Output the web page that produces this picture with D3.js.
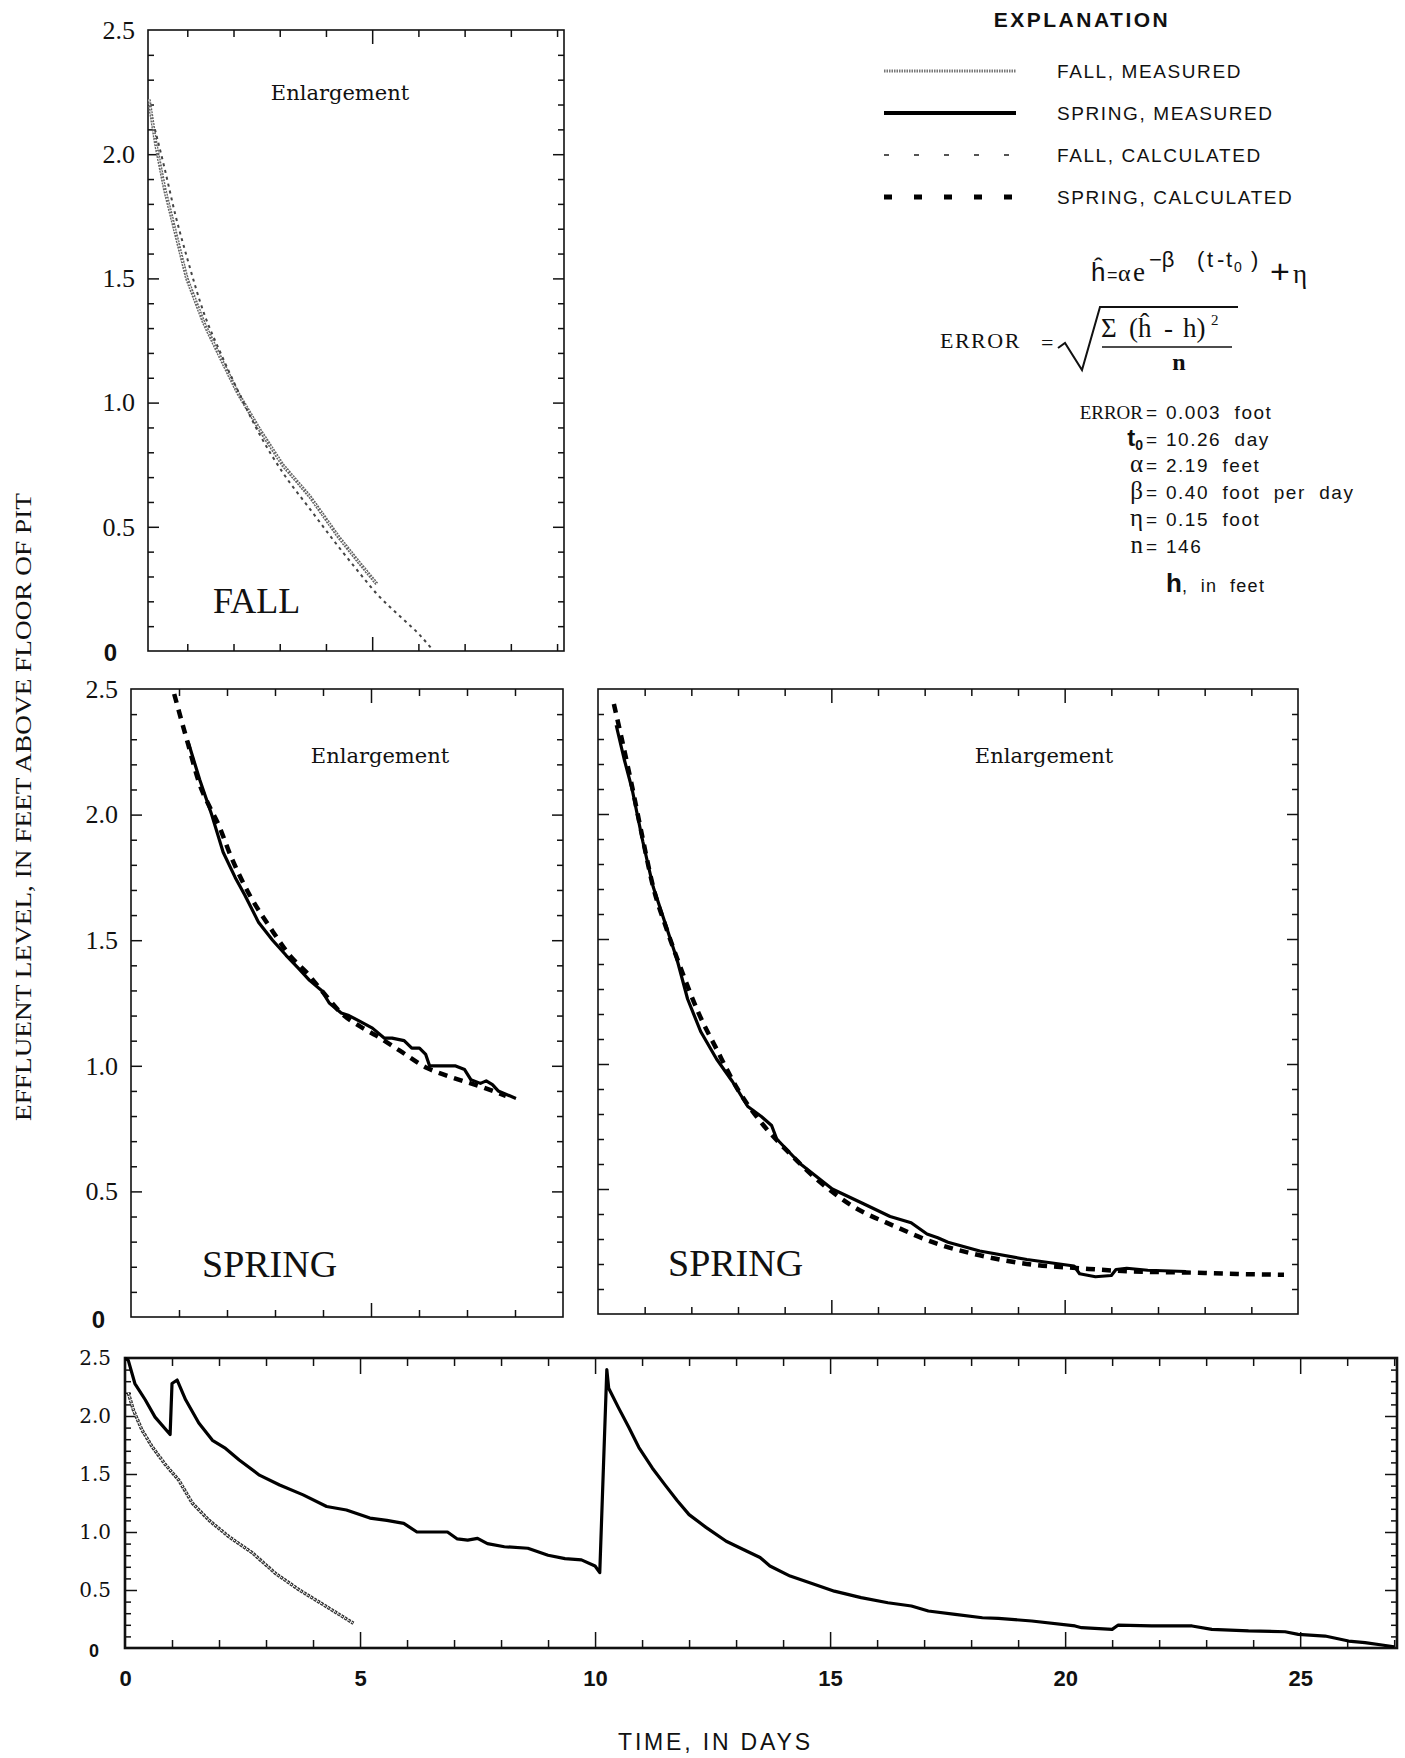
<!DOCTYPE html>
<html>
<head>
<meta charset="utf-8">
<script src="https://cdn.jsdelivr.net/npm/d3@7"></script>
<style>
  body { margin: 0; background: #fff; }
  svg text { fill: #111; }
</style>
</head>
<body>
<div id="chart"></div>
<script>
// values: time in days, effluent level in feet

var levelTicks = [0, 0.5, 1.0, 1.5, 2.0, 2.5];
var dayTicks = [0, 5, 10, 15, 20, 25];

// FALL enlargement (top left)
var fallEnlMeasT = [0.17, 0.32, 0.51, 0.75, 0.99, 1.36, 1.72, 2.09, 2.57, 3.06, 3.66, 4.27, 4.7, 5.1];
var fallEnlMeasH = [2.22, 2.04, 1.86, 1.68, 1.50, 1.32, 1.18, 1.04, 0.89, 0.75, 0.62, 0.46, 0.36, 0.27];
var fallEnlCalcT = [0.3, 0.5, 0.75, 1.0, 1.36, 1.72, 2.09, 2.57, 3.06, 3.66, 4.27, 4.7, 5.1, 5.6, 6.0, 6.33];
var fallEnlCalcH = [2.1, 1.95, 1.75, 1.58, 1.36, 1.2, 1.05, 0.87, 0.72, 0.57, 0.42, 0.32, 0.23, 0.14, 0.07, 0.0];

// SPRING enlargement, first period (middle left)
var springEnlMeasT = [1.19, 1.43, 1.68, 1.92, 2.17, 2.37, 2.66, 2.95, 3.23, 3.48, 3.72, 3.97, 4.13, 4.38, 4.54, 4.79, 5.03, 5.28, 5.44, 5.69, 5.85, 6.01, 6.14, 6.22, 6.75, 6.95, 7.08, 7.28, 7.40, 7.53, 7.65, 8.02];
var springEnlMeasH = [2.29, 2.14, 2.0, 1.85, 1.75, 1.68, 1.57, 1.50, 1.44, 1.39, 1.34, 1.30, 1.25, 1.21, 1.20, 1.175, 1.15, 1.11, 1.11, 1.10, 1.07, 1.07, 1.045, 1.0, 1.0, 0.985, 0.945, 0.93, 0.94, 0.925, 0.90, 0.87];
var springEnlCalcT = [0.90, 1.19, 1.43, 1.64, 1.80, 2.09, 2.50, 2.90, 3.35, 3.64, 3.97, 4.38, 4.79, 5.11, 5.60, 6.18, 6.59, 7.32, 7.81];
var springEnlCalcH = [2.48, 2.28, 2.12, 2.03, 1.97, 1.83, 1.67, 1.55, 1.43, 1.375, 1.30, 1.21, 1.155, 1.12, 1.06, 0.99, 0.96, 0.915, 0.88];

// SPRING enlargement, second period (middle right)
var spring2MeasT = [10.39, 10.56, 10.73, 10.96, 11.18, 11.41, 11.69, 11.92, 12.2, 12.54, 12.88, 13.21, 13.50, 13.72, 13.83, 14.34, 15.02, 15.70, 16.26, 16.71, 17.05, 17.28, 17.5, 18.18, 19.19, 20.2, 20.32, 20.66, 21.0, 21.1, 21.33, 21.78, 22.6];
var spring2MeasH = [2.355, 2.22, 2.10, 1.89, 1.71, 1.58, 1.42, 1.26, 1.13, 1.02, 0.93, 0.83, 0.79, 0.754, 0.70, 0.60, 0.50, 0.44, 0.39, 0.365, 0.32, 0.305, 0.287, 0.252, 0.218, 0.192, 0.161, 0.149, 0.154, 0.178, 0.183, 0.175, 0.17];
var spring2CalcT = [10.34, 10.51, 10.73, 10.96, 11.18, 11.47, 11.80, 12.14, 12.54, 12.99, 13.55, 14.12, 14.68, 15.47, 16.37, 17.28, 18.18, 19.19, 20.32, 21.45, 22.6, 23.7, 24.7];
var spring2CalcH = [2.44, 2.30, 2.11, 1.90, 1.71, 1.54, 1.37, 1.21, 1.06, 0.90, 0.754, 0.64, 0.54, 0.43, 0.35, 0.28, 0.235, 0.20, 0.183, 0.17, 0.166, 0.16, 0.157];

// full record (bottom)
var springRecT = [0, 0.07, 0.21, 0.43, 0.64, 0.96, 1.0, 1.11, 1.29, 1.57, 1.86, 2.14, 2.43, 2.86, 3.29, 3.79, 4.29, 4.71, 5.21, 5.57, 5.93, 6.21, 6.86, 7.07, 7.29, 7.5, 7.71, 8.07, 8.57, 9.0, 9.36, 9.71, 10.0, 10.1, 10.25, 10.29, 10.5, 10.72, 10.93, 11.22, 11.5, 11.75, 12.0, 12.36, 12.79, 13.22, 13.51, 13.72, 14.15, 14.66, 15.09, 15.66, 16.23, 16.73, 17.09, 17.66, 18.24, 18.58, 19.29, 20.21, 20.35, 21.0, 21.13, 21.84, 22.7, 23.12, 23.9, 24.68, 24.96, 25.53, 26.03, 26.38, 26.74, 27.0];
var springRecH = [2.5, 2.48, 2.28, 2.14, 1.99, 1.84, 2.28, 2.31, 2.14, 1.94, 1.79, 1.72, 1.62, 1.49, 1.405, 1.32, 1.22, 1.19, 1.12, 1.10, 1.075, 1.00, 1.00, 0.94, 0.93, 0.945, 0.90, 0.873, 0.86, 0.80, 0.77, 0.76, 0.707, 0.65, 2.40, 2.24, 2.07, 1.90, 1.73, 1.55, 1.40, 1.27, 1.15, 1.04, 0.92, 0.836, 0.78, 0.707, 0.62, 0.55, 0.49, 0.434, 0.39, 0.362, 0.319, 0.29, 0.261, 0.255, 0.233, 0.19, 0.175, 0.161, 0.198, 0.19, 0.19, 0.161, 0.147, 0.14, 0.118, 0.103, 0.06, 0.046, 0.026, 0.01];
var fallRecT = [0.07, 0.18, 0.36, 0.57, 0.86, 1.14, 1.43, 1.79, 2.21, 2.71, 3.21, 3.71, 4.29, 4.86];
var fallRecH = [2.20, 2.05, 1.88, 1.74, 1.58, 1.45, 1.25, 1.10, 0.96, 0.82, 0.64, 0.50, 0.356, 0.213];

var legendNames = ["FALL, MEASURED", "SPRING, MEASURED", "FALL, CALCULATED", "SPRING, CALCULATED"];
var paramLabels = ["ERROR", "t", "\u03b1", "\u03b2", "\u03b7", "n"];
var paramValues = ["0.003  foot", "10.26  day", "2.19  feet", "0.40  foot  per  day", "0.15  foot", "146"];

var serif = "'Liberation Serif', 'Times New Roman', serif";
var wideSerif = "'DejaVu Serif', serif";
var sans = "'Liberation Sans', Arial, sans-serif";

var svg = d3.select("#chart").append("svg")
  .attr("width", 1405).attr("height", 1758)
  .style("background", "#fff");

// line styles
var styles = {
  fallMeas: function(sel) { sel.attr("stroke", "#666").attr("stroke-width", 3.6).attr("stroke-dasharray", "2,1"); },
  fallMeasDark: function(sel) { sel.attr("stroke", "#333").attr("stroke-width", 3.4).attr("stroke-dasharray", "3,1"); },
  fallCalc: function(sel) { sel.attr("stroke", "#444").attr("stroke-width", 2).attr("stroke-dasharray", "3,4"); },
  springMeas: function(sel) { sel.attr("stroke", "#000").attr("stroke-width", 3.2); },
  springCalc: function(sel) { sel.attr("stroke", "#000").attr("stroke-width", 4.5).attr("stroke-dasharray", "9,7"); }
};

var panelCount = 0;
function makePanel(p) {
  var x = d3.scaleLinear().domain(p.xDomain).range([p.left, p.right]);
  var y = d3.scaleLinear().domain([0, 2.5]).range([p.bottom, p.top]);
  var g = svg.append("g");

  var days = d3.range(Math.ceil(p.xDomain[0]), Math.floor(p.xDomain[1]) + 1)
    .filter(function(d) { return d > p.xDomain[0] + 0.01 && d < p.xDomain[1] - 0.01; });
  var xMinor = days.filter(function(d) { return d % 5 != 0; });
  var xMajor = days.filter(function(d) { return d % 5 == 0; });
  var tenths = d3.range(1, 25).map(function(i) { return i / 10; });
  var yMinor = tenths.filter(function(d) { return Math.round(d * 10) % 5 != 0; });
  var yMajor = [0.5, 1.0, 1.5, 2.0];

  function ticks(axis, tr) {
    g.append("g").attr("transform", tr).call(axis)
      .call(function(a) { a.select(".domain").remove(); a.selectAll("text").remove(); })
      .selectAll("line").attr("stroke", "#111").attr("stroke-width", 1.5);
  }
  ticks(d3.axisBottom(x).tickValues(xMinor).tickSize(-p.tx), "translate(0," + p.bottom + ")");
  ticks(d3.axisBottom(x).tickValues(xMajor).tickSize(-p.tX), "translate(0," + p.bottom + ")");
  ticks(d3.axisTop(x).tickValues(xMinor).tickSize(-p.tx), "translate(0," + p.top + ")");
  ticks(d3.axisTop(x).tickValues(xMajor).tickSize(-p.tX), "translate(0," + p.top + ")");
  ticks(d3.axisLeft(y).tickValues(yMinor).tickSize(-p.ty), "translate(" + p.left + ",0)");
  ticks(d3.axisLeft(y).tickValues(yMajor).tickSize(-p.tY), "translate(" + p.left + ",0)");
  ticks(d3.axisRight(y).tickValues(yMinor).tickSize(-p.ty), "translate(" + p.right + ",0)");
  ticks(d3.axisRight(y).tickValues(yMajor).tickSize(-p.tY), "translate(" + p.right + ",0)");

  g.append("rect")
    .attr("x", p.left).attr("y", p.top)
    .attr("width", p.right - p.left).attr("height", p.bottom - p.top)
    .attr("fill", "none").attr("stroke", "#111").attr("stroke-width", p.frame);

  if (p.yLabels) {
    var ya = g.append("g").attr("transform", "translate(" + p.left + ",0)")
      .call(d3.axisLeft(y).tickValues(levelTicks).tickSize(0).tickPadding(p.pad)
        .tickFormat(function(d) { return d == 0 ? "0" : d3.format(".1f")(d); }));
    ya.select(".domain").remove();
    ya.selectAll("text").attr("font-family", p.labelFont).attr("font-size", p.labelSize).attr("fill", "#111");
    ya.selectAll(".tick").filter(function(d) { return d == 0; }).select("text")
      .attr("font-family", sans).attr("font-weight", "bold").attr("font-size", p.labelSize - 2)
      .attr("x", -p.pad - p.zeroShift).attr("dy", p.zeroDy);
  }

  panelCount++;
  var cid = "clip" + panelCount;
  svg.append("clipPath").attr("id", cid).append("rect")
    .attr("x", p.left).attr("y", p.top - 3)
    .attr("width", p.right - p.left).attr("height", p.bottom - p.top + 3);
  var plot = svg.append("g").attr("clip-path", "url(#" + cid + ")");

  p.series.forEach(function(s) {
    var line = d3.line()
      .x(function(d) { return x(d[0]); })
      .y(function(d) { return y(d[1]); })
      .curve(s.smooth ? d3.curveMonotoneX : d3.curveLinear);
    var path = plot.append("path")
      .datum(d3.zip(s.t, s.h))
      .attr("d", line)
      .attr("fill", "none")
      .attr("stroke-linejoin", "round");
    styles[s.style](path);
    if (s.style == "fallMeas" || s.style == "fallMeasDark") {
      plot.append("path").datum(d3.zip(s.t, s.h)).attr("d", line)
        .attr("fill", "none").attr("stroke", "#fff").attr("stroke-width", 1)
        .attr("stroke-dasharray", "2,2");
    }
  });

  (p.texts || []).forEach(function(t) {
    g.append("text").attr("x", t.x).attr("y", t.y)
      .attr("text-anchor", t.anchor || "start")
      .attr("font-family", t.font).attr("font-size", t.size)
      .text(t.text);
  });
  return { x: x, y: y };
}

// top left: FALL enlargement
makePanel({
  left: 148, right: 564, top: 30, bottom: 651, xDomain: [0.15, 9.15],
  tx: 7, tX: 14, ty: 6, tY: 11, frame: 1.6,
  yLabels: true, labelFont: serif, labelSize: 26, pad: 13, zeroShift: 18, zeroDy: "0.4em",
  series: [
    { t: fallEnlMeasT, h: fallEnlMeasH, style: "fallMeas" },
    { t: fallEnlCalcT, h: fallEnlCalcH, style: "fallCalc", smooth: true }
  ],
  texts: [
    { x: 340, y: 100, text: "Enlargement", font: wideSerif, size: 21, anchor: "middle" },
    { x: 213, y: 613, text: "FALL", font: serif, size: 36 }
  ]
});

// middle left: SPRING enlargement, first period
makePanel({
  left: 131, right: 563, top: 689, bottom: 1317, xDomain: [0, 9],
  tx: 7, tX: 14, ty: 6, tY: 11, frame: 1.6,
  yLabels: true, labelFont: serif, labelSize: 26, pad: 13, zeroShift: 13, zeroDy: "0.45em",
  series: [
    { t: springEnlCalcT, h: springEnlCalcH, style: "springCalc", smooth: true },
    { t: springEnlMeasT, h: springEnlMeasH, style: "springMeas" }
  ],
  texts: [
    { x: 380, y: 763, text: "Enlargement", font: wideSerif, size: 21, anchor: "middle" },
    { x: 202, y: 1277, text: "SPRING", font: serif, size: 38 }
  ]
});

// middle right: SPRING enlargement, second period
makePanel({
  left: 598, right: 1298, top: 689, bottom: 1314, xDomain: [10, 25],
  tx: 7, tX: 14, ty: 6, tY: 11, frame: 1.6,
  yLabels: false,
  series: [
    { t: spring2CalcT, h: spring2CalcH, style: "springCalc", smooth: true },
    { t: spring2MeasT, h: spring2MeasH, style: "springMeas" }
  ],
  texts: [
    { x: 1044, y: 763, text: "Enlargement", font: wideSerif, size: 21, anchor: "middle" },
    { x: 668, y: 1276, text: "SPRING", font: serif, size: 38 }
  ]
});

// bottom: full record
var bottom = makePanel({
  left: 125, right: 1397, top: 1358, bottom: 1648, xDomain: [0, 27.06],
  tx: 8, tX: 16, ty: 6, tY: 12, frame: 2.6,
  yLabels: true, labelFont: wideSerif, labelSize: 20, pad: 14, zeroShift: 12, zeroDy: "0.45em",
  series: [
    { t: fallRecT, h: fallRecH, style: "fallMeasDark" },
    { t: springRecT, h: springRecH, style: "springMeas" }
  ]
});

// x tick labels of the full record
var xa = svg.append("g").attr("transform", "translate(0,1648)")
  .call(d3.axisBottom(bottom.x).tickValues(dayTicks).tickSize(0).tickPadding(22));
xa.select(".domain").remove();
xa.selectAll("text").attr("font-family", sans).attr("font-weight", "bold").attr("font-size", 22).attr("fill", "#111");

// axis titles
svg.append("text")
  .attr("transform", "translate(31,807) rotate(-90)")
  .attr("text-anchor", "middle")
  .attr("font-family", serif).attr("font-size", 23)
  .attr("textLength", 628).attr("lengthAdjust", "spacingAndGlyphs")
  .text("EFFLUENT LEVEL, IN FEET ABOVE FLOOR OF PIT");

svg.append("text")
  .attr("x", 618).attr("y", 1750)
  .attr("font-family", sans).attr("font-size", 23)
  .attr("textLength", 192).attr("lengthAdjust", "spacing")
  .text("TIME, IN DAYS");

// explanation
svg.append("text")
  .attr("x", 1082).attr("y", 27).attr("text-anchor", "middle")
  .attr("font-family", sans).attr("font-weight", "bold").attr("font-size", 21)
  .attr("letter-spacing", 2.5)
  .text("EXPLANATION");

var legendY = [71, 113, 155, 197];
var legendStyle = ["fallMeas", "springMeas", "fallCalc", "springCalc"];
legendNames.forEach(function(name, i) {
  var ln = svg.append("line")
    .attr("x1", 884).attr("x2", 1016).attr("y1", legendY[i]).attr("y2", legendY[i]);
  styles[legendStyle[i]](ln);
  if (legendStyle[i] == "fallMeas") ln.attr("stroke-width", 3).attr("stroke", "#777").attr("stroke-dasharray", "1.5,1");
  if (legendStyle[i] == "fallCalc") ln.attr("stroke-dasharray", "5,25").attr("stroke-width", 2.2).attr("stroke", "#555");
  if (legendStyle[i] == "springCalc") ln.attr("stroke-dasharray", "8,22").attr("stroke-width", 5);
  if (legendStyle[i] == "springMeas") ln.attr("stroke-width", 4);
  svg.append("text")
    .attr("x", 1057).attr("y", legendY[i] + 7)
    .attr("font-family", sans).attr("font-size", 19).attr("letter-spacing", 1.6)
    .text(name);
});

// model equation
var eq = svg.append("text").attr("y", 281).attr("font-family", sans).attr("font-size", 26);
eq.append("tspan").attr("x", 1091).text("\u0125");
eq.append("tspan").attr("x", 1107).attr("font-size", 18).text("=");
eq.append("tspan").attr("x", 1118).attr("font-family", serif).attr("font-size", 24).text("\u03b1");
eq.append("tspan").attr("x", 1133).attr("font-family", serif).attr("font-size", 27).text("e");
eq.append("tspan").attr("x", 1149).attr("font-size", 22).attr("dy", -14).text("\u2212\u03b2");
eq.append("tspan").attr("x", 1197).attr("font-size", 22).text("(");
eq.append("tspan").attr("x", 1207).attr("font-size", 22).text("t");
eq.append("tspan").attr("x", 1217).attr("font-size", 22).text("-");
eq.append("tspan").attr("x", 1226).attr("font-size", 22).text("t");
eq.append("tspan").attr("x", 1234).attr("font-size", 14).attr("dy", 5).text("0");
eq.append("tspan").attr("x", 1251).attr("font-size", 22).attr("dy", -5).text(")");
eq.append("tspan").attr("x", 1270).attr("font-size", 34).attr("dy", 16).text("+");
eq.append("tspan").attr("x", 1293).attr("font-family", serif).attr("font-size", 27).text("\u03b7");

// error equation
svg.append("text").attr("x", 940).attr("y", 348)
  .attr("font-family", serif).attr("font-size", 22).attr("letter-spacing", 1.5).text("ERROR");
svg.append("text").attr("x", 1041).attr("y", 350)
  .attr("font-family", serif).attr("font-size", 22).text("=");
svg.append("path")
  .attr("d", "M1058,348 L1065,343 L1082,370 L1100,307 L1238,307")
  .attr("fill", "none").attr("stroke", "#111").attr("stroke-width", 2);
var num = svg.append("text").attr("y", 337).attr("font-family", serif).attr("font-size", 27);
num.append("tspan").attr("x", 1101).text("\u03a3");
num.append("tspan").attr("x", 1129).text("(\u0125");
num.append("tspan").attr("x", 1164).text("-");
num.append("tspan").attr("x", 1183).text("h)");
num.append("tspan").attr("x", 1211).attr("font-size", 15).attr("dy", -12).text("2");
svg.append("line").attr("x1", 1102).attr("x2", 1232).attr("y1", 347).attr("y2", 347)
  .attr("stroke", "#111").attr("stroke-width", 1.6);
svg.append("text").attr("x", 1179).attr("y", 370).attr("text-anchor", "middle")
  .attr("font-family", serif).attr("font-weight", "bold").attr("font-size", 24).text("n");

// fitted parameters
var paramY = [419, 446, 472, 499, 526, 553];
paramLabels.forEach(function(lab, i) {
  var t = svg.append("text").attr("x", 1143).attr("y", paramY[i]).attr("text-anchor", "end");
  if (i == 0) {
    t.attr("font-family", serif).attr("font-size", 19).text(lab);
  } else if (i == 1) {
    t.attr("font-family", sans).attr("font-weight", "bold").attr("font-size", 24);
    t.append("tspan").text(lab);
    t.append("tspan").attr("font-size", 14).attr("dy", 4).text("0");
  } else {
    t.attr("font-family", serif).attr("font-size", 25).text(lab);
  }
  svg.append("text").attr("x", 1146).attr("y", paramY[i])
    .attr("font-family", sans).attr("font-size", 19).text("=");
  svg.append("text").attr("x", 1166).attr("y", paramY[i])
    .attr("font-family", sans).attr("font-size", 19).attr("letter-spacing", 1.5)
    .style("white-space", "pre").text(paramValues[i]);
});
var hl = svg.append("text").attr("x", 1166).attr("y", 592).attr("font-family", sans).style("white-space", "pre");
hl.append("tspan").attr("font-weight", "bold").attr("font-size", 26).text("h");
hl.append("tspan").attr("font-size", 18).attr("letter-spacing", 1.3).text(",  in  feet");
</script>
</body>
</html>
